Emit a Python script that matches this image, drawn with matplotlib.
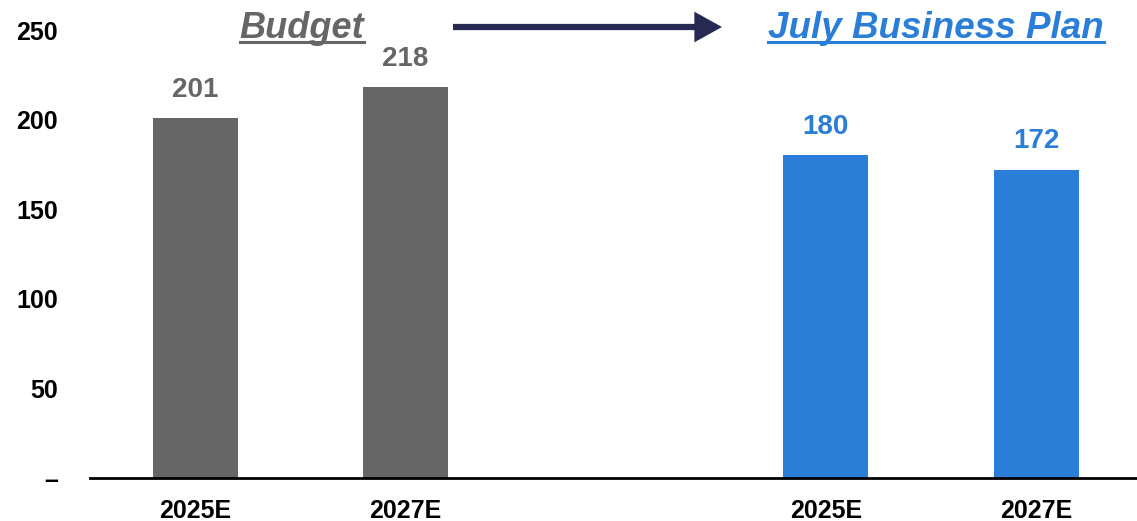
import numpy as np
import matplotlib.pyplot as plt
from matplotlib.lines import Line2D

plt.rcParams['font.family'] = ['Liberation Sans', 'DejaVu Sans']

# data
years = ["2025E", "2027E", "2025E", "2027E"]
values = [201, 218, 180, 172]
groups = ["Budget", "Budget", "July Business Plan", "July Business Plan"]
xpos = [0, 1, 3, 4]

gray = "#666666"
blue = "#2A7ED8"
navy = "#262951"
colors = [gray if g == "Budget" else blue for g in groups]

fig = plt.figure(figsize=(11.37, 5.21), dpi=100)
ax = fig.add_axes([90/1137, 1 - 478/521, 1 - 90/1137, (478 - 30)/521])

ax.bar(xpos, values, width=0.405, color=colors, zorder=2)

for x, v, c in zip(xpos, values, colors):
    ax.annotate(str(v), (x, v), xytext=(0, 11), textcoords="offset points",
                ha="center", va="bottom", fontsize=20, fontweight="bold", color=c)

ax.set_xlim(-0.5, 4.48)
ax.set_ylim(0, 250)
ax.set_xticks(xpos)
ax.set_xticklabels(years, fontsize=18, fontweight="bold")
yt = [0, 50, 100, 150, 200, 250]
ax.set_yticks(yt)
ax.set_yticklabels(["–"] + [str(t) for t in yt[1:]], fontsize=18, fontweight="bold")
ax.tick_params(axis="both", length=0)
ax.tick_params(axis="x", pad=15)
ax.tick_params(axis="y", pad=23)
for s in ["top", "right", "left"]:
    ax.spines[s].set_visible(False)
ax.spines["bottom"].set_linewidth(2)
ax.spines["bottom"].set_color("black")

# group titles
t1 = fig.text(302/1137, 1 - 38/521, "Budget", ha="center", va="baseline",
              fontsize=26, fontweight="bold", style="italic", color=gray)
t2 = fig.text(936/1137, 1 - 38/521, "July Business Plan", ha="center", va="baseline",
              fontsize=26.5, fontweight="bold", style="italic", color=blue)

fig.canvas.draw()
r = fig.canvas.get_renderer()
W, H = fig.bbox.width, fig.bbox.height
for t, c in [(t1, gray), (t2, blue)]:
    bb = t.get_window_extent(r)
    yline = (H - 42) / H
    fig.add_artist(Line2D([bb.x0 / W, bb.x1 / W], [yline, yline], color=c, lw=2.2))

ax.annotate("", xy=(722/1137, 1 - 27/521), xytext=(453/1137, 1 - 27/521),
            xycoords="figure fraction", textcoords="figure fraction",
            arrowprops=dict(arrowstyle="-|>,head_length=0.65,head_width=0.36",
                            mutation_scale=20, color=navy, lw=4.5,
                            capstyle="butt", joinstyle="miter",
                            shrinkA=0, shrinkB=0))

fig.savefig("out.png", dpi=100)
